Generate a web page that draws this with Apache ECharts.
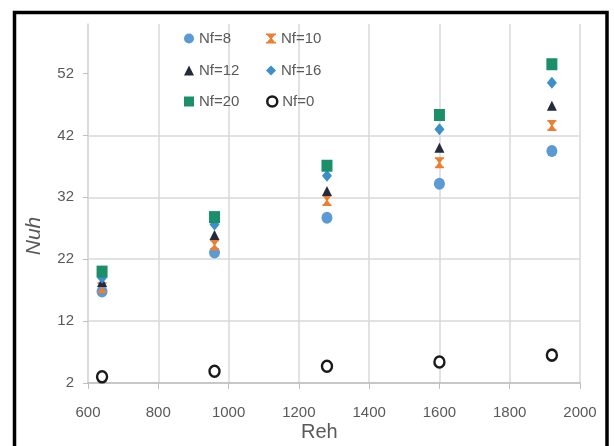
<!DOCTYPE html>
<html>
<head>
<meta charset="utf-8">
<script src="https://cdn.jsdelivr.net/npm/echarts@6/dist/echarts.min.js"></script>
<style>
  html, body { margin: 0; padding: 0; background: #fff; }
  #chart { width: 614px; height: 446px; }
</style>
</head>
<body>
<div id="chart"></div>
<script>
// Nusselt number vs. Reynolds number for different fin counts
const reh = [640, 960, 1280, 1600, 1920];
const nf8  = [16.8, 23.1, 28.7, 34.2, 39.5];
const nf10 = [17.4, 24.3, 31.5, 37.6, 43.6];
const nf12 = [18.3, 25.9, 33.0, 40.0, 46.8];
const nf16 = [19.0, 27.6, 35.5, 43.0, 50.5];
const nf20 = [20.0, 28.8, 37.1, 45.3, 53.5];
const nf0  = [3.0, 3.9, 4.7, 5.4, 6.5];

const yTicks = [2, 12, 22, 32, 42, 52];
const xTicks = [600, 800, 1000, 1200, 1400, 1600, 1800, 2000];

const FONT = '"Liberation Sans", Arial, sans-serif';
const GREY = '#595959';

// hourglass-style cross marker
const crossBar = 'path://M0,0 L10,0 L10,1.6 L8.9,1.6 L5.9,5 L8.9,8.4 L10,8.4 L10,10 L0,10 L0,8.4 L1.1,8.4 L4.1,5 L1.1,1.6 L0,1.6 Z';

function pts(ys) { return reh.map((x, i) => [x, ys[i]]); }

const seriesDefs = [
  { name: 'Nf=8',  data: nf8,  symbol: 'circle',   size: [11, 12], style: { color: '#5b9bd5' } },
  { name: 'Nf=10', data: nf10, symbol: crossBar,   size: [9, 11],  style: { color: '#ed7d31' } },
  { name: 'Nf=12', data: nf12, symbol: 'triangle', size: [10, 10], style: { color: '#222a3c' } },
  { name: 'Nf=16', data: nf16, symbol: 'diamond',  size: [10, 12], style: { color: '#3b8fcc' } },
  { name: 'Nf=20', data: nf20, symbol: 'rect',     size: [11, 12], style: { color: '#1b8f6a' } },
  { name: 'Nf=0',  data: nf0,  symbol: 'circle',   size: [10, 11], style: { color: '#ffffff', borderColor: '#1a1a1a', borderWidth: 2.5 } }
];

// legend slots: [symbol centre x, row centre y]
const legendPos = [[189, 39], [271, 39], [189, 71], [271, 71], [189, 102], [271, 102]];

const legends = seriesDefs.map((s, i) => ({
  data: [{ name: s.name, icon: s.symbol, itemStyle: s.style }],
  left: legendPos[i][0] - 5,
  top: legendPos[i][1] - 8,
  padding: 0,
  itemWidth: 10,
  itemHeight: 10,
  textStyle: { color: GREY, fontSize: 15, fontFamily: FONT },
  selectedMode: false
}));

const option = {
  backgroundColor: '#fff',
  animation: false,
  legend: legends,
  grid: { left: 88, right: 34, top: 24, bottom: 63, containLabel: false },
  xAxis: {
    type: 'value',
    min: 600, max: 2000, interval: 200,
    axisLine: { show: true, lineStyle: { color: '#bfbfbf', width: 1.5 } },
    axisTick: { show: true, length: 6, lineStyle: { color: '#bfbfbf' } },
    axisLabel: { color: GREY, fontSize: 15, fontFamily: FONT, margin: 22,
      formatter: v => xTicks.includes(v) ? String(v) : '' },
    splitLine: { show: true, lineStyle: { color: '#d9d9d9', width: 1.5 } }
  },
  yAxis: {
    type: 'value',
    min: 2, max: 60, interval: 10,
    axisLine: { show: true, lineStyle: { color: '#d9d9d9', width: 1.5 } },
    axisTick: { show: true, length: 5, lineStyle: { color: '#bfbfbf' }, customValues: yTicks },
    axisLabel: { color: GREY, fontSize: 15, fontFamily: FONT, margin: 14, customValues: yTicks },
    splitLine: { show: true, showMaxLine: false, lineStyle: { color: '#d9d9d9', width: 1.5 } }
  },
  graphic: [
    { type: 'text', left: 301, top: 422,
      style: { text: 'Reh', fill: GREY, font: '20px ' + FONT } },
    { type: 'text', x: 34, y: 236, rotation: Math.PI / 2,
      style: { text: 'Nuh', fill: GREY, font: 'italic 21px ' + FONT,
        align: 'center', verticalAlign: 'middle' } },
    { type: 'rect', shape: { x: 14.5, y: 12.5, width: 592.5, height: 500 },
      style: { fill: 'none', stroke: '#000', lineWidth: 3.5 }, z: 100 }
  ],
  series: seriesDefs.map(s => ({
    name: s.name,
    type: 'scatter',
    data: pts(s.data),
    symbol: s.symbol,
    symbolSize: s.size,
    itemStyle: Object.assign({ opacity: 1 }, s.style)
  }))
};

const chart = echarts.init(document.getElementById('chart'), null, { renderer: 'canvas' });
chart.setOption(option);
</script>
</body>
</html>
